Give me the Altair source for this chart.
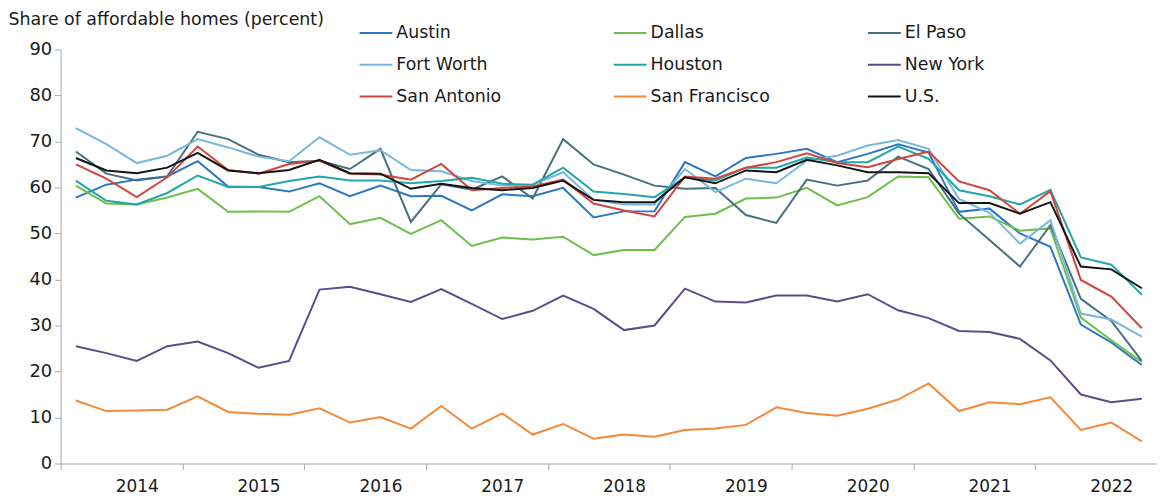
import altair as alt
import pandas as pd

cities = ["Austin", "Dallas", "El Paso", "Fort Worth", "Houston",
          "New York", "San Antonio", "San Francisco", "U.S."]
colors = ["#2b78c2", "#6cc04a", "#46707f", "#77b9dd", "#22a7a7",
          "#5f4b8b", "#d1453d", "#f5893a", "#141414"]
years = list(range(2014, 2023))
quarters = [f"{y}Q{q}" for y in years for q in range(1, 5)]

austin = [57.8, 60.6, 61.7, 62.4, 65.7, 60.2, 60.1, 59.1, 60.9, 58.1, 60.4, 58.1, 58.2,
          55.0, 58.5, 58.1, 59.9, 53.5, 54.8, 54.8, 65.5, 62.4, 66.4, 67.3, 68.4,
          65.5, 67.3, 69.4, 67.6, 54.7, 55.4, 50.0, 47.1, 30.2, 26.3, 21.4]
dallas = [60.4, 56.5, 56.3, 57.8, 59.7, 54.7, 54.8, 54.7, 58.1, 52.0, 53.4, 49.9, 52.9,
          47.3, 49.1, 48.7, 49.3, 45.3, 46.4, 46.4, 53.6, 54.3, 57.6, 57.8, 59.9,
          56.1, 57.9, 62.4, 62.2, 53.2, 53.7, 50.6, 51.1, 31.7, 26.8, 22.1]
el_paso = [67.8, 63.0, 61.5, 62.4, 72.1, 70.5, 67.1, 65.5, 65.8, 64.0, 68.4, 52.5, 60.7,
           59.5, 62.4, 57.6, 70.5, 65.0, 62.8, 60.4, 59.7, 59.9, 54.0, 52.3, 61.7,
           60.4, 61.5, 66.7, 64.0, 54.3, 48.6, 42.8, 51.8, 35.8, 31.0, 22.3]
fort_worth = [72.9, 69.4, 65.3, 66.9, 70.5, 68.7, 66.7, 65.7, 70.9, 67.1, 68.1, 63.8, 63.5,
              61.4, 60.4, 60.6, 63.3, 57.3, 56.3, 56.3, 64.0, 59.0, 61.9, 60.9, 65.8,
              66.9, 69.1, 70.3, 68.4, 57.5, 54.5, 47.8, 52.9, 32.6, 31.3, 27.6]
houston = [61.5, 57.1, 56.3, 58.8, 62.6, 60.1, 60.1, 61.4, 62.4, 61.5, 61.5, 60.9, 61.4,
           62.1, 60.8, 60.6, 64.3, 59.1, 58.6, 57.9, 62.2, 61.5, 64.3, 64.3, 66.5,
           65.5, 65.5, 68.9, 66.2, 59.4, 58.1, 56.3, 59.5, 44.8, 43.2, 36.7]
new_york = [25.5, 24.0, 22.3, 25.5, 26.5, 24.0, 20.8, 22.3, 37.8, 38.4, 36.8, 35.1, 37.9,
            34.7, 31.4, 33.2, 36.5, 33.6, 29.0, 30.0, 38.0, 35.2, 35.0, 36.5, 36.5,
            35.2, 36.8, 33.3, 31.6, 28.8, 28.6, 27.1, 22.4, 15.0, 13.3, 14.1]
san_antonio = [65.0, 61.9, 57.9, 62.2, 68.9, 63.8, 63.0, 65.1, 65.8, 63.0, 62.8, 61.7, 65.1,
               59.4, 59.9, 60.2, 61.7, 56.5, 55.0, 53.7, 62.4, 61.9, 64.3, 65.5, 67.4,
               65.3, 64.4, 66.2, 67.8, 61.3, 59.4, 54.3, 59.2, 39.9, 36.3, 29.4]
san_francisco = [13.7, 11.4, 11.5, 11.7, 14.6, 11.2, 10.8, 10.6, 12.0, 8.9, 10.1, 7.6, 12.5,
                 7.6, 10.9, 6.3, 8.6, 5.4, 6.3, 5.8, 7.3, 7.6, 8.4, 12.2, 11.0,
                 10.4, 11.9, 13.9, 17.4, 11.4, 13.3, 12.9, 14.4, 7.3, 8.9, 4.8]
us = [66.4, 63.7, 63.1, 64.3, 67.5, 63.7, 63.1, 63.8, 66.0, 63.1, 63.0, 59.7, 60.8,
      59.9, 59.4, 59.9, 61.5, 57.3, 56.8, 56.8, 62.2, 60.9, 63.7, 63.3, 66.0,
      64.8, 63.3, 63.3, 63.1, 56.6, 56.6, 54.3, 56.8, 42.8, 42.2, 38.1]

series = [austin, dallas, el_paso, fort_worth, houston, new_york,
          san_antonio, san_francisco, us]

rows = []
for city, vals in zip(cities, series):
    for i, v in enumerate(vals):
        rows.append({"city": city, "quarter": quarters[i], "pos": i + 0.5, "value": v})
df = pd.DataFrame(rows)

W = 1104
H = 417
NQ = len(quarters)
FONT = "DejaVu Sans"
TXT = "#1a1a1a"
AX = "#a8a8a8"

x_axis = alt.Axis(
    values=list(range(0, NQ + 1, 4)),
    labelExpr=f"datum.value < {NQ} ? '' + (2014 + datum.value / 4) : ''",
    labelOffset=2.5 * W / NQ,
    labelFlush=False,
    labelOverlap=False,
    labelFontSize=17,
    labelFont=FONT,
    labelColor=TXT,
    labelPadding=9,
    tickSize=6,
    tickColor=AX,
    domainColor=AX,
    grid=False,
    title=None,
)

y_axis = alt.Axis(
    values=list(range(0, 91, 10)),
    labelFontSize=18,
    labelFont=FONT,
    labelColor=TXT,
    labelPadding=3,
    tickSize=6,
    tickColor=AX,
    domainColor=AX,
    grid=False,
    title="Share of affordable homes (percent)",
    titleAngle=0,
    titleAlign="left",
    titleBaseline="alphabetic",
    titleX=-53,
    titleY=-25,
    titleFont=FONT,
    titleFontSize=17.5,
    titleFontWeight="normal",
    titleColor=TXT,
)

legend = alt.Legend(
    orient="none",
    legendX=300,
    legendY=-34,
    direction="horizontal",
    columns=3,
    gridAlign="all",
    columnPadding=94,
    rowPadding=6,
    padding=0,
    title=None,
    symbolType="stroke",
    symbolSize=1089,
    symbolStrokeWidth=2,
    labelFont=FONT,
    labelFontSize=17.5,
    labelColor=TXT,
    labelOffset=3,
)

chart = alt.Chart(df).mark_line(strokeWidth=2).encode(
    x=alt.X("pos:Q", scale=alt.Scale(domain=[0, NQ], nice=False, zero=False), axis=x_axis),
    y=alt.Y("value:Q", scale=alt.Scale(domain=[0, 90], nice=False), axis=y_axis),
    color=alt.Color("city:N", scale=alt.Scale(domain=cities, range=colors), legend=legend),
    detail="city:N",
).properties(
    width=W,
    height=H,
    autosize=alt.AutoSizeParams(type="none"),
    padding={"left": 53, "top": 40, "right": 0, "bottom": 32},
).configure_view(stroke=None)

chart.save("out.html", embed_options={"renderer": "svg", "actions": False})
